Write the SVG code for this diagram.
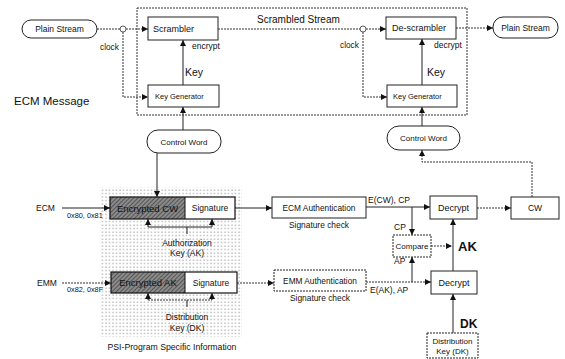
<svg xmlns="http://www.w3.org/2000/svg" width="565" height="359" viewBox="0 0 565 359">
<style>
text{font-family:"Liberation Sans",Arial,sans-serif;fill:#111}
.box{fill:#fff;stroke:#222;stroke-width:1}
.dbox{fill:#fff;stroke:#222;stroke-width:1;stroke-dasharray:2 1}
.ln{fill:none;stroke:#222;stroke-width:1}
.dl{fill:none;stroke:#333;stroke-width:1;stroke-dasharray:2 1}
.ar{marker-end:url(#ah)}
.c{text-anchor:middle}
.b{font-weight:bold}
</style>
<defs>
<marker id="ah" markerUnits="userSpaceOnUse" markerWidth="7" markerHeight="7" refX="6" refY="3" orient="auto">
<path d="M0,0 L6,3 L0,6 z" fill="#111"/>
</marker>
<pattern id="hatch" patternUnits="userSpaceOnUse" width="3" height="3" patternTransform="rotate(45)">
<rect width="3" height="3" fill="#8a8a8a"/>
<line x1="0" y1="0" x2="0" y2="3" stroke="#333" stroke-width="1.2"/>
</pattern>
<pattern id="dots" patternUnits="userSpaceOnUse" width="3.5" height="3.5">
<circle cx="1" cy="1" r="0.65" fill="#8c8c8c"/>
</pattern>
</defs>

<g id="psi-area">
<rect x="100" y="187" width="142" height="150" fill="url(#dots)"/>
<text x="172" y="350" class="c" font-size="8.7">PSI-Program Specific Information</text>
</g>

<g id="ecm-message-frame">
<rect x="137" y="8" width="330" height="107" fill="none" stroke="#333" stroke-width="1" stroke-dasharray="2 1"/>
<text x="14" y="105" font-size="11.5">ECM Message</text>
</g>

<g id="connectors">
<line class="dl" x1="97" y1="29" x2="120" y2="29"/>
<line class="dl ar" x1="126" y1="29" x2="148" y2="29"/>
<polyline class="dl ar" points="123,32 123,97 148,97"/>
<line class="ln ar" x1="183" y1="85" x2="183" y2="40"/>
<line class="dl" x1="218" y1="29" x2="360" y2="29"/>
<line class="dl ar" x1="366" y1="29" x2="386" y2="29"/>
<line class="dl ar" x1="456" y1="28" x2="493" y2="28"/>
<polyline class="dl ar" points="363,32 363,97 387,97"/>
<line class="ln ar" x1="422" y1="85" x2="422" y2="39"/>
<line class="ln ar" x1="183" y1="130" x2="183" y2="107"/>
<line class="ln ar" x1="422" y1="126" x2="422" y2="107"/>
<polyline class="dl ar" points="532,197 532,162 422,162 422,150"/>
<line class="ln ar" x1="157" y1="153" x2="157" y2="197"/>
<line class="ln ar" x1="62" y1="208" x2="110" y2="208"/>
<line class="dl ar" x1="62" y1="283" x2="111" y2="283"/>
<polyline class="ln" points="148,227 212,227"/>
<line class="ln ar" x1="148" y1="227" x2="148" y2="219"/>
<line class="ln ar" x1="212" y1="227" x2="212" y2="219"/>
<line class="ln" x1="187" y1="227" x2="187" y2="234"/>
<polyline class="dl" points="148,300 212,300"/>
<line class="ln ar" x1="148" y1="300" x2="148" y2="293"/>
<line class="ln ar" x1="212" y1="300" x2="212" y2="293"/>
<line class="ln" x1="187" y1="300" x2="187" y2="307"/>
<line class="ln ar" x1="235" y1="208" x2="272" y2="208"/>
<line class="dl ar" x1="237" y1="283" x2="274" y2="283"/>
<line class="ln ar" x1="366" y1="207" x2="430" y2="207"/>
<line class="ln ar" x1="412" y1="207" x2="412" y2="235"/>
<line class="dl ar" x1="477" y1="208" x2="511" y2="208"/>
<line class="dl ar" x1="366" y1="282" x2="431" y2="282"/>
<line class="ln ar" x1="412" y1="282" x2="412" y2="257"/>
<line class="dl ar" x1="431" y1="246" x2="452" y2="246"/>
<line class="ln ar" x1="453" y1="271" x2="453" y2="219"/>
<line class="ln ar" x1="453" y1="333" x2="453" y2="294"/>
<circle cx="123" cy="29" r="3" fill="#fff" stroke="#333" stroke-width="0.8"/>
<circle cx="363" cy="29" r="3" fill="#fff" stroke="#333" stroke-width="0.8"/>
</g>

<g id="labels">
<text x="100" y="50" font-size="8.3">clock</text>
<text x="192" y="49" font-size="8.5">encrypt</text>
<text x="185" y="76" font-size="10.5">Key</text>
<text x="257" y="23" font-size="10">Scrambled Stream</text>
<text x="340" y="48" font-size="8.3">clock</text>
<text x="434" y="48" font-size="8.5">decrypt</text>
<text x="427" y="76" font-size="10.5">Key</text>
<text x="36" y="211" font-size="8.5">ECM</text>
<text x="67" y="218" font-size="7.3">0x80, 0x81</text>
<text x="37" y="286" font-size="8.5">EMM</text>
<text x="67" y="292" font-size="7.3">0x82, 0x8F</text>
<text x="187" y="246" class="c" font-size="8.5">Authorization</text>
<text x="187" y="256" class="c" font-size="8.5">Key (AK)</text>
<text x="187" y="320" class="c" font-size="8.5">Distribution</text>
<text x="187" y="331" class="c" font-size="8.5">Key (DK)</text>
<text x="319" y="228" class="c" font-size="8.4">Signature check</text>
<text x="320" y="301" class="c" font-size="8.4">Signature check</text>
<text x="368" y="203" font-size="8.5">E(CW), CP</text>
<text x="370" y="293" font-size="8.5">E(AK), AP</text>
<text x="394" y="230" font-size="8.5">CP</text>
<text x="394" y="264" font-size="8.5">AP</text>
<text x="458" y="251" class="b" font-size="13">AK</text>
<text x="460" y="328" class="b" font-size="12">DK</text>
</g>

<g id="plain-stream-in">
<rect class="box" x="22" y="20" width="75" height="18" rx="9"/>
<text x="59.5" y="32" class="c" font-size="8.5">Plain Stream</text>
</g>
<g id="scrambler">
<rect class="box" x="148" y="17" width="70" height="23"/>
<text x="153" y="32" font-size="9">Scrambler</text>
</g>
<g id="key-generator-left">
<rect class="box" x="148" y="85" width="71" height="22"/>
<text x="155" y="99" font-size="7.5">Key Generator</text>
</g>
<g id="de-scrambler">
<rect class="box" x="386" y="17" width="70" height="22"/>
<text x="392" y="31" font-size="9">De-scrambler</text>
</g>
<g id="plain-stream-out">
<rect class="box" x="493" y="17" width="65" height="21" rx="10"/>
<text x="525.5" y="31" class="c" font-size="8.5">Plain Stream</text>
</g>
<g id="key-generator-right">
<rect class="box" x="387" y="85" width="70" height="22"/>
<text x="393" y="99" font-size="7.5">Key Generator</text>
</g>
<g id="control-word-left">
<rect class="box" x="147" y="130" width="74" height="23" rx="11"/>
<text x="184" y="144.5" class="c" font-size="8">Control Word</text>
</g>
<g id="control-word-right">
<rect class="box" x="387" y="126" width="73" height="24" rx="12"/>
<text x="423.5" y="141" class="c" font-size="8">Control Word</text>
</g>
<g id="ecm-packet">
<rect x="110" y="197" width="75" height="22" fill="url(#hatch)"/>
<rect x="185" y="197" width="50" height="22" fill="#fff"/>
<rect x="110" y="197" width="125" height="22" fill="none" stroke="#111" stroke-width="1.2"/>
<line x1="185" y1="197" x2="185" y2="219" stroke="#111" stroke-width="1"/>
<text x="147.5" y="211.5" class="c" font-size="9.5">Encrypted CW</text>
<text x="210" y="211" class="c" font-size="8.5">Signature</text>
</g>
<g id="emm-packet">
<rect x="111" y="272" width="74" height="21" fill="url(#hatch)"/>
<rect x="185" y="272" width="52" height="21" fill="#fff"/>
<rect x="111" y="272" width="126" height="21" fill="none" stroke="#111" stroke-width="1.2"/>
<line x1="185" y1="272" x2="185" y2="293" stroke="#111" stroke-width="1"/>
<text x="148" y="286" class="c" font-size="9.5">Encrypted AK</text>
<text x="211" y="286" class="c" font-size="8.5">Signature</text>
</g>
<g id="ecm-authentication">
<rect class="box" x="272" y="197" width="94" height="21"/>
<text x="319" y="211" class="c" font-size="8.3">ECM Authentication</text>
</g>
<g id="emm-authentication">
<rect class="dbox" x="274" y="270" width="92" height="21"/>
<text x="320" y="284" class="c" font-size="8.3">EMM Authentication</text>
</g>
<g id="decrypt-upper">
<rect class="box" x="430" y="196" width="47" height="23"/>
<text x="453.5" y="211" class="c" font-size="9">Decrypt</text>
</g>
<g id="cw">
<rect class="box" x="511" y="197" width="48" height="22"/>
<text x="535" y="211" class="c" font-size="8.5">CW</text>
</g>
<g id="compare">
<rect class="dbox" x="393" y="235" width="38" height="22"/>
<text x="412" y="249" class="c" font-size="8">Compare</text>
</g>
<g id="decrypt-lower">
<rect class="box" x="431" y="271" width="46" height="23"/>
<text x="454" y="286" class="c" font-size="9">Decrypt</text>
</g>
<g id="distribution-key">
<rect class="dbox" x="427" y="333" width="51" height="25"/>
<text x="452.5" y="343.5" class="c" font-size="8">Distribution</text>
<text x="452.5" y="354" class="c" font-size="8">Key (DK)</text>
</g>
</svg>
